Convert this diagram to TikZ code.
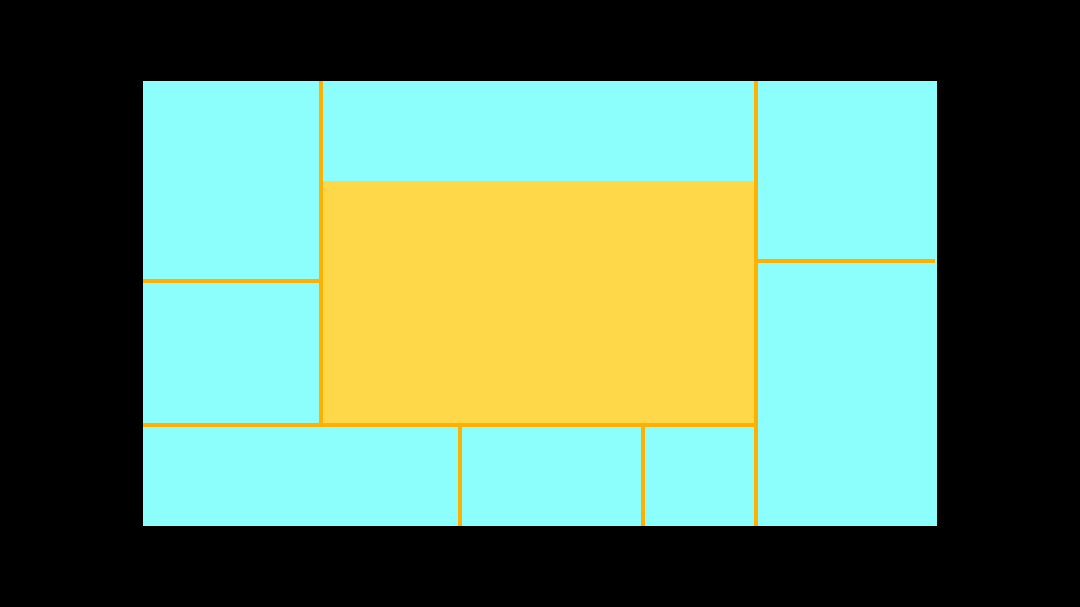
\documentclass[tikz,border=0pt]{standalone}
\definecolor{paneCyan}{HTML}{8CFFFD}
\definecolor{paneGold}{HTML}{FFD84A}
\definecolor{splitLine}{HTML}{FFB000}
\begin{document}
\begin{tikzpicture}[x=1pt, y=-1pt]
    \fill[black] (0,0) rectangle (1080,607);
    \fill[paneCyan] (143,81) rectangle (937,526);
    \fill[paneGold] (321,181) rectangle (756,425);
    \draw[draw=splitLine, line width=3.2pt]
      (321,81) -- (321,425)
      (756,81) -- (756,526)
      (143,281) -- (321,281)
      (756,261) -- (935,261)
      (143,425) -- (756,425)
      (460,425) -- (460,526)
      (643,425) -- (643,526);
  \end{tikzpicture}
\end{document}
